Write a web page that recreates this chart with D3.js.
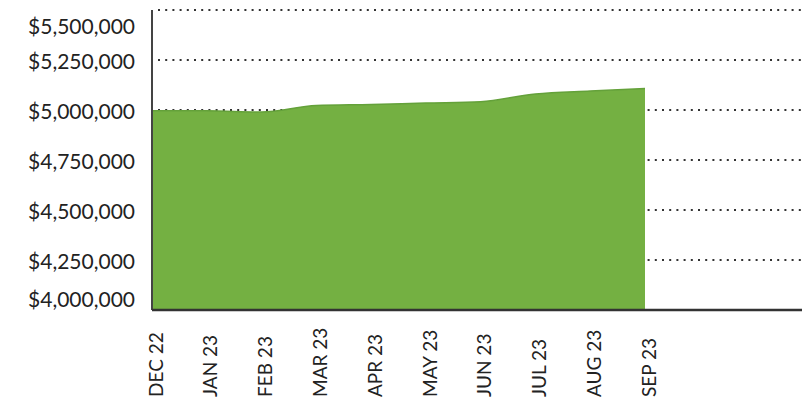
<!DOCTYPE html>
<html>
<head>
<meta charset="utf-8">
<script src="https://cdn.jsdelivr.net/npm/d3@7"></script>
<style>
  body { margin: 0; background: #fff; }
  text { font-family: Lato, "Open Sans", sans-serif; fill: #222; }
</style>
</head>
<body>
<div class="chart"></div>
<script>
var months = ["DEC 22", "JAN 23", "FEB 23", "MAR 23", "APR 23", "MAY 23", "JUN 23", "JUL 23", "AUG 23", "SEP 23"];
var balances = [4996500, 4996000, 4990000, 5022500, 5027500, 5035000, 5041500, 5080000, 5095000, 5107500];
var yTicks = [4000000, 4250000, 4500000, 4750000, 5000000, 5250000, 5500000];

var margin = {top: 10, right: 0, bottom: 91, left: 152};
var width = 802 - margin.left - margin.right,
    height = 401 - margin.top - margin.bottom;

var svg = d3.select(".chart").append("svg")
    .attr("width", 802)
    .attr("height", 401)
  .append("g")
    .attr("transform", "translate(" + margin.left + "," + margin.top + ")");

var x = d3.scalePoint().domain(months).range([0, 493]);
var y = d3.scaleLinear().domain([4000000, 5500000]).range([height, 0]);

// dotted gridlines (behind the area)
svg.selectAll("line.grid")
    .data(yTicks.filter(function(d) { return d > 4000000; }))
  .enter().append("line")
    .attr("class", "grid")
    .attr("x1", 6).attr("x2", width)
    .attr("y1", function(d) { return y(d); })
    .attr("y2", function(d) { return y(d); })
    .attr("stroke", "#333")
    .attr("stroke-width", 2)
    .attr("stroke-dasharray", "2,5.2");

// area
var area = d3.area()
    .x(function(d, i) { return x(months[i]); })
    .y0(height)
    .y1(function(d) { return y(d); })
    .curve(d3.curveMonotoneX);

svg.append("path")
    .datum(balances)
    .attr("d", area)
    .attr("fill", "#74b042");

svg.append("path")
    .datum(balances)
    .attr("d", area.lineY1())
    .attr("fill", "none")
    .attr("stroke", "#64a13a")
    .attr("stroke-width", 1.5);

// axes lines
svg.append("line")
    .attr("x1", 0).attr("x2", 0)
    .attr("y1", 0).attr("y2", height)
    .attr("stroke", "#444").attr("stroke-width", 2);

svg.append("line")
    .attr("x1", 0).attr("x2", width)
    .attr("y1", height).attr("y2", height)
    .attr("stroke", "#333").attr("stroke-width", 2.5);

// y labels
var fmt = d3.format("$,");
svg.selectAll("text.ylab")
    .data(yTicks)
  .enter().append("text")
    .attr("class", "ylab")
    .attr("x", -17)
    .attr("y", function(d) {
      if (d === 5500000) return y(d) + 17;
      if (d === 4000000) return y(d) - 10;
      return y(d) + 2;
    })
    .attr("dy", "0.35em")
    .attr("text-anchor", "end")
    .style("font-size", "21px")
    .text(function(d) { return fmt(d); });

// x labels
svg.selectAll("text.xlab")
    .data(months)
  .enter().append("text")
    .attr("class", "xlab")
    .attr("transform", function(d) {
      return "translate(" + (x(d) + 4) + "," + (height + 87) + ") rotate(-90)";
    })
    .attr("dy", "0.35em")
    .attr("text-anchor", "start")
    .style("font-size", "19px")
    .text(function(d) { return d; });
</script>
</body>
</html>
